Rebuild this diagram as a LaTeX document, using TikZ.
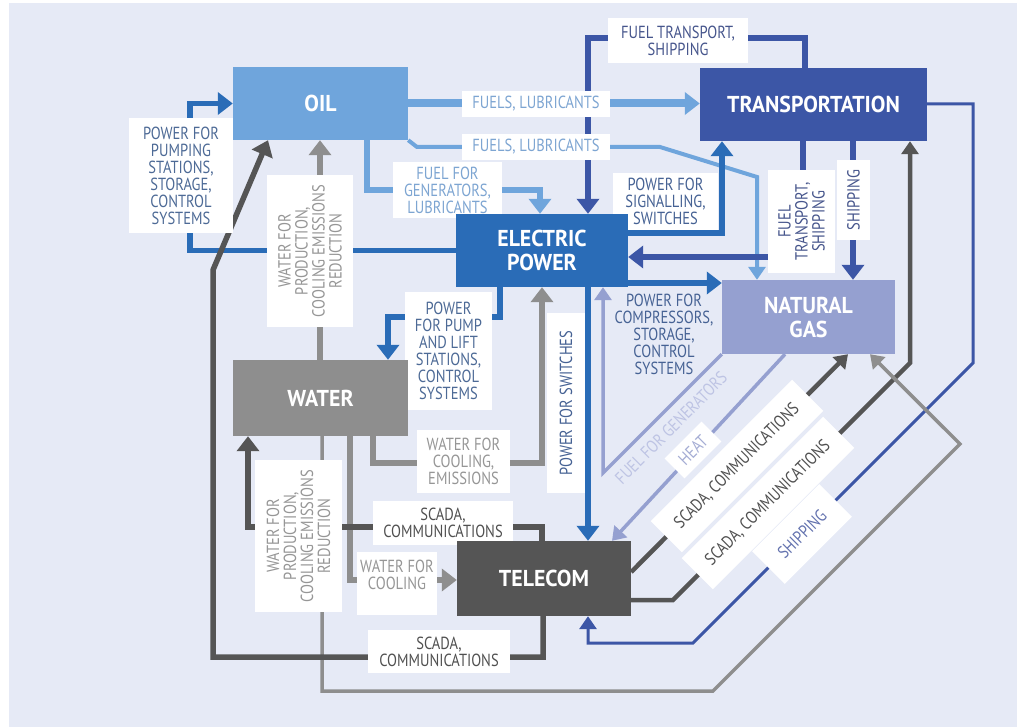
\documentclass[tikz,border=0pt]{standalone}
\usepackage{fontspec}
\setmainfont{PT Sans}[FakeStretch=0.83]
\newfontfamily\boxfont{PT Sans}[FakeStretch=0.95]
\usetikzlibrary{arrows.meta}
\definecolor{bgc}{RGB}{230,234,246}
\definecolor{oilc}{RGB}{111,165,220}
\definecolor{epc}{RGB}{42,108,183}
\definecolor{trc}{RGB}{60,86,166}
\definecolor{ngc}{RGB}{149,160,208}
\definecolor{wac}{RGB}{142,142,142}
\definecolor{tec}{RGB}{85,85,85}
\definecolor{c1t}{RGB}{77,106,150}
\definecolor{oilt}{RGB}{125,165,210}
\definecolor{trt}{RGB}{70,85,140}
\definecolor{trt2}{RGB}{100,115,175}
\definecolor{ept}{RGB}{70,98,148}
\definecolor{wat}{RGB}{150,150,150}
\definecolor{tet}{RGB}{80,80,80}
\definecolor{ngt}{RGB}{190,196,228}
\definecolor{ngt2}{RGB}{165,173,212}
\pgfdeclarelayer{layerbg}
\pgfdeclarelayer{layerln}
\pgfdeclarelayer{layerlb}
\pgfsetlayers{layerbg,layerln,layerlb,main}
\tikzset{
  bx/.style={inner sep=0pt, font=\boxfont\fontsize{23}{24}\selectfont\bfseries, text=white, align=center},
  lb/.style={fill=white, inner sep=0pt, align=center, font=\fontsize{17.5}{17}\selectfont},
  lbfree/.style={inner sep=0pt, align=center, font=\fontsize{17.5}{17}\selectfont},
  ln/.style={line width=5.5pt},
  arrowL/.style={-{Triangle[width=22pt,length=15pt]}},
  arrowS/.style={-{Triangle[width=17pt,length=13pt]}}
}
\begin{document}
\begin{tikzpicture}[x=1pt,y=-1pt]
\useasboundingbox (0,0) rectangle (1020,727);
\begin{pgfonlayer}{layerbg}
\fill[white] (0,0) rectangle (1020,727);
\fill[bgc] (9,3) rectangle (1017,727);
\end{pgfonlayer}

% main boxes
\node[bx, fill=oilc, minimum width=175pt, minimum height=73pt] (oil) at (320.5,103.5) {OIL};
\node[bx, fill=trc, minimum width=227pt, minimum height=73pt] (tr) at (813.5,104.5) {TRANSPORTATION};
\node[bx, fill=epc, minimum width=172pt, minimum height=73pt] (ep) at (542,250.5) {ELECTRIC\\POWER};
\node[bx, fill=ngc, minimum width=173pt, minimum height=74pt] (ng) at (808.5,317) {NATURAL\\GAS};
\node[bx, fill=wac, minimum width=175pt, minimum height=76pt] (wa) at (320.5,398) {WATER};
\node[bx, fill=tec, minimum width=174pt, minimum height=75pt] (te) at (544,578.5) {TELECOM};

\begin{pgfonlayer}{layerln}
\draw[ln, epc, arrowL] (ep.west) -- (190,250.5) -- (190,103.5) -- (oil.west);
\draw[line width=8pt, oilc, arrowL] (oil.east) -- (oil.east -| tr.west);
\draw[line width=4pt, oilc, arrowS] (oil.south east) -- (417,147) -- (660,147) -- (757,177) -- (757,0 |- ng.north);
\draw[ln, oilc, arrowL] (367,0 |- oil.south) -- (367,190) -- (540,190) -- (540,0 |- ep.north);
\draw[ln, trc, arrowL] (805,0 |- tr.north) -- (805,38) -- (588,38) -- (588,0 |- ep.north);
\draw[ln, epc, arrowL] (ep.east |- 0,233) -- (722,233) -- (722,0 |- tr.south);
\draw[ln, trc, arrowL] (803,0 |- tr.south) -- (803,257) -- (ep.east |- 0,257);
\draw[ln, trc, arrowL] (853,0 |- tr.south) -- (853,0 |- ng.north);
\draw[ln, epc, arrowL] (ep.east |- 0,283) -- (ng.west |- 0,283);
\draw[ln, epc, arrowL] (500,0 |- ep.south) -- (500,317) -- (388,317) -- (388,0 |- wa.north);
\draw[ln, wac, arrowL] (373,0 |- wa.south) -- (373,463) -- (542,463) -- (542,0 |- ep.south);
\draw[ln, epc, arrowL] (588,0 |- ep.south) -- (588,0 |- te.north);
\draw[line width=3.5pt, ngc, arrowS] (ng.south west) -- (603,473) -- (603,0 |- ep.south);
\draw[line width=3.5pt, ngc, arrowS] (785,0 |- ng.south) -- (612,0 |- te.north);
\draw[line width=4.5pt, tec, arrowS] (te.east |- 0,572) -- (848,0 |- ng.south);
\draw[line width=4.5pt, tec, arrowS] (te.east |- 0,600) -- (673,600) -- (910,363) -- (910,0 |- tr.south);
\draw[line width=3pt, trc, arrowS] (tr.east |- 0,104) -- (973,104) -- (973,363) -- (693,643) -- (588,643) -- (588,0 |- te.south);
\draw[line width=3.5pt, wac, arrowS] (322,0 |- wa.south) -- (322,691) -- (713,691) -- (960,444) -- (870,0 |- ng.south);
\draw[ln, wac, arrowL] (350,0 |- wa.south) -- (350,580) -- (te.west |- 0,580);
\draw[ln, tec, arrowL] (542,0 |- te.north) -- (542,527) -- (248,527) -- (248,0 |- wa.south);
\draw[ln, tec, arrowL] (543,0 |- te.south) -- (543,657) -- (213,657) -- (213,270) -- (268,0 |- oil.south);
\draw[ln, wac, arrowL] (320,0 |- wa.north) -- (320,0 |- oil.south);
\end{pgfonlayer}

\begin{pgfonlayer}{layerlb}
\node[lb, text=c1t, minimum width=104pt, minimum height=115pt] (l1) at (181,175.5) {POWER FOR\\PUMPING\\STATIONS,\\STORAGE,\\CONTROL\\SYSTEMS};
\node[lb, text=oilt, minimum width=148pt, minimum height=26pt] (l2) at (536,104) {FUELS, LUBRICANTS};
\node[lb, text=oilt, minimum width=148pt, minimum height=26pt] (l3) at (536,147) {FUELS, LUBRICANTS};
\node[lb, text=oilt, minimum width=109pt, minimum height=56pt] (l4) at (447.5,190) {FUEL FOR\\GENERATORS,\\LUBRICANTS};
\node[lb, text=trt, minimum width=140pt, minimum height=45pt] (l5) at (678,40.5) {FUEL TRANSPORT,\\SHIPPING};
\node[lb, text=ept, minimum width=105pt, minimum height=57pt] (l6) at (665.5,201.5) {POWER FOR\\SIGNALLING,\\SWITCHES};
\node[lb, text=trt, rotate=90, minimum width=103pt, minimum height=67pt] (l7) at (801.5,221.5) {FUEL\\TRANSPORT,\\SHIPPING};
\node[lb, text=trt, rotate=90, minimum width=80pt, minimum height=33pt] (l8) at (853.5,200) {SHIPPING};
\node[lbfree, text=ept] (l9) at (664,334) {POWER FOR\\COMPRESSORS,\\STORAGE,\\CONTROL\\SYSTEMS};
\node[lb, text=c1t, minimum width=87pt, minimum height=118pt] (l10) at (448.5,351) {POWER\\FOR PUMP\\AND LIFT\\STATIONS,\\CONTROL\\SYSTEMS};
\node[lb, text=wat, minimum width=93pt, minimum height=63pt] (l11) at (463.5,461.5) {WATER FOR\\COOLING,\\EMISSIONS};
\node[lb, text=ept, rotate=90, minimum width=180pt, minimum height=38pt] (l12) at (566,403) {POWER FOR SWITCHES};
\node[lbfree, text=ngt, rotate=45] (l13) at (671,428) {FUEL FOR GENERATORS};
\node[lb, text=ngt2, rotate=45, minimum width=52pt, minimum height=28pt] (l14) at (693,450) {HEAT};
\node[lb, text=tet, rotate=45, minimum width=200pt, minimum height=44pt] (l15) at (737,466) {SCADA, COMMUNICATIONS};
\node[lb, text=tet, rotate=45, minimum width=200pt, minimum height=44pt] (l16) at (768,503) {SCADA, COMMUNICATIONS};
\node[lb, text=trt2, rotate=45, minimum width=95pt, minimum height=46pt] (l17) at (802,534) {SHIPPING};
\node[lb, text=wat, rotate=90, minimum width=152pt, minimum height=87pt] (l18) at (298.5,536) {WATER FOR\\PRODUCTION,\\COOLING EMISSIONS\\REDUCTION};
\node[lb, text=wat, minimum width=80pt, minimum height=63pt] (l19) at (397,583.5) {WATER FOR\\COOLING\\\phantom{X}};
\node[lb, text=tet, minimum width=140pt, minimum height=44pt] (l20) at (443,523) {SCADA,\\COMMUNICATIONS};
\node[lb, text=tet, minimum width=142pt, minimum height=43pt] (l21) at (439,651.5) {SCADA,\\COMMUNICATIONS};
\node[lb, text=wat, rotate=90, minimum width=152pt, minimum height=86pt] (l22) at (310,251) {WATER FOR\\PRODUCTION,\\COOLING EMISSIONS\\REDUCTION};
\end{pgfonlayer}
\end{tikzpicture}
\end{document}
